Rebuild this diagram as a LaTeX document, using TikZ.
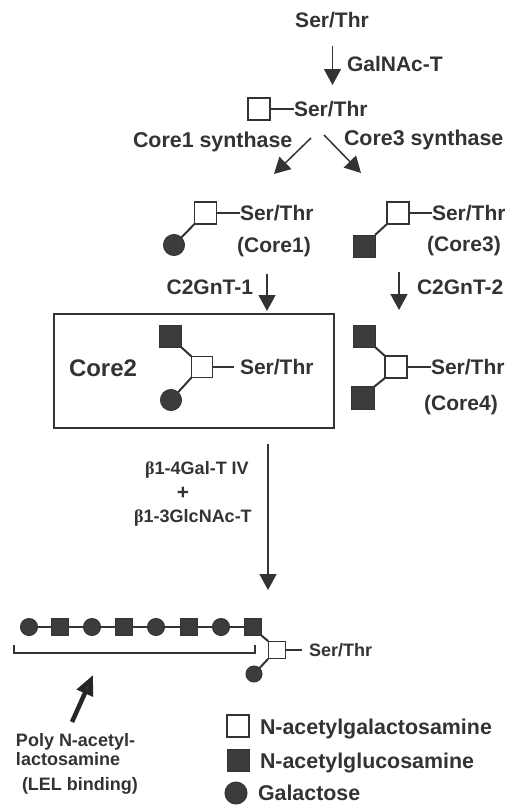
\documentclass[tikz,border=0pt]{standalone}
\usepackage{fontspec}
\setmainfont{Liberation Sans}
\newfontfamily\bfont{Liberation Serif}
\usetikzlibrary{arrows.meta}
\definecolor{ink}{HTML}{333333}
\definecolor{fillk}{HTML}{3C3C3C}
\tikzset{
 lab/.style={inner sep=0pt,outer sep=0pt,text=ink,font=\fontsize{21}{21}\selectfont\bfseries,text height=15pt,text depth=0pt},
 wide/.style={lab,font=\fontsize{21.4}{21.4}\selectfont\bfseries},
 sm/.style={lab,font=\fontsize{18}{18}\selectfont\bfseries,text height=13pt},
 wsq/.style={draw=ink,line width=1.8pt,fill=white,minimum size=#1,inner sep=0pt,outer sep=0pt},
 bsq/.style={draw=ink,line width=1pt,fill=fillk,minimum size=#1,inner sep=0pt,outer sep=0pt},
 cir/.style={circle,draw=ink,line width=1pt,fill=fillk,minimum size=#1,inner sep=0pt,outer sep=0pt},
 bond/.style={draw=ink,line width=2pt},
 arr/.style={draw=ink,line width=1.5pt,-{Triangle[length=16pt,width=17pt,fill=ink]}},
}
\begin{document}
\begin{tikzpicture}[x=1pt,y=-1pt]
\useasboundingbox (0,0) rectangle (505,806);
% top
\node[lab] (s0) at (332,20) {Ser/Thr};
\coordinate (a1s) at (332.5,46); \coordinate (a1e) at (332.5,85);
\draw[arr] (a1s) -- (a1e);
\node[lab,anchor=west] (galt) at (347,64) {GalNAc-T};
\node[wsq=22pt] (g0) at (259,109) {};
\node[lab,anchor=west] (s1) at (294,109) {Ser/Thr};
\draw[bond] (g0) -- (s1);
\node[wide,anchor=west] (c1s) at (133,140) {Core1 synthase};
\node[wide,anchor=west] (c3s) at (344,138) {Core3 synthase};
\coordinate (a2s) at (311,138); \coordinate (a2e) at (274,174);
\coordinate (a3s) at (324,135); \coordinate (a3e) at (361,173);
\draw[arr] (a2s) -- (a2e);
\draw[arr] (a3s) -- (a3e);
% core1
\node[wsq=22pt] (g1) at (205.5,213) {};
\node[cir=21pt] (g1c) at (174,245) {};
\node[lab,anchor=west] (s2) at (240,213) {Ser/Thr};
\node[lab] (c1) at (274,245) {(Core1)};
\draw[bond] (g1) -- (s2);
\draw[bond] (g1.south west) -- (g1c);
% core3
\node[wsq=22pt] (g3) at (398,213) {};
\node[bsq=22pt] (g3b) at (364,246) {};
\node[lab,anchor=west] (s3) at (432,213) {Ser/Thr};
\node[lab] (c3) at (464,244) {(Core3)};
\draw[bond] (g3) -- (s3);
\draw[bond] (g3.south west) -- (g3b.north east);
% enzymes
\node[lab,anchor=east] (e1) at (253,287) {C2GnT-1};
\coordinate (a4s) at (267,274); \coordinate (a4e) at (267,311);
\draw[arr] (a4s) -- (a4e);
\node[lab,anchor=west] (e2) at (417,287) {C2GnT-2};
\coordinate (a5s) at (399,272); \coordinate (a5e) at (399,310);
\draw[arr] (a5s) -- (a5e);
% core2 box
\node[draw=ink,line width=2pt,minimum width=280pt,minimum height=114pt,inner sep=0pt] (box) at (194,371) {};
\node[lab,anchor=west,font=\fontsize{24}{24}\selectfont\bfseries,text height=17pt] (c2) at (69,368) {Core2};
\node[bsq=22pt] (g2t) at (170,336) {};
\node[wsq=21pt] (g2) at (202,367) {};
\node[cir=21pt] (g2c) at (171,400) {};
\node[lab,anchor=west] (s4) at (240,367) {Ser/Thr};
\coordinate (g2e) at (234,367);
\draw[bond] (g2) -- (g2e);
\draw[bond] (g2.north west) -- (g2t.south east);
\draw[bond] (g2.south west) -- (g2c);
% core4
\node[bsq=22pt] (g4t) at (364,336) {};
\node[wsq=22pt] (g4) at (396,367) {};
\node[bsq=23pt] (g4b) at (363,398) {};
\node[lab,anchor=west] (s5) at (431,367) {Ser/Thr};
\node[lab] (c4) at (461,403) {(Core4)};
\draw[bond] (g4) -- (s5);
\draw[bond] (g4.north west) -- (g4t.south east);
\draw[bond] (g4.south west) -- (g4b.north east);
% long arrow
\node[sm] (b1) at (197,468) {{\bfont\bfseries β}1-4Gal-T IV};
\node[lab] (plus) at (183,492) {+};
\node[sm] (b2) at (193,516) {{\bfont\bfseries β}1-3GlcNAc-T};
\coordinate (a6s) at (268,444); \coordinate (a6e) at (268,590);
\draw[arr] (a6s) -- (a6e);
% chain
\node[cir=17pt] (n1) at (29,627) {};
\node[bsq=17pt] (n2) at (60,627) {};
\node[cir=17pt] (n3) at (92,627) {};
\node[bsq=17pt] (n4) at (124,627) {};
\node[cir=17pt] (n5) at (156,627) {};
\node[bsq=17pt] (n6) at (189,627) {};
\node[cir=17pt] (n7) at (221,627) {};
\node[bsq=17pt] (n8) at (253,627) {};
\draw[bond] (n1) -- (n2) (n2) -- (n3) (n3) -- (n4) (n4) -- (n5) (n5) -- (n6) (n6) -- (n7) (n7) -- (n8);
\node[draw=ink,line width=.8pt,fill=white,minimum size=17pt,inner sep=0pt] (g5) at (277,650) {};
\node[cir=16pt] (g5c) at (254,674) {};
\node[sm,anchor=west] (s6) at (309,650) {Ser/Thr};
\coordinate (g5e) at (302,650);
\draw[bond] (g5) -- (g5e);
\draw[bond] (n8.south east) -- (g5.north west);
\draw[bond] (g5.south west) -- (g5c);
\coordinate (bl) at (14,645); \coordinate (br) at (255,645);
\draw[ink,line width=2pt] (bl) -- (14,653) -- (255,653) -- (br);
% thick arrow
\coordinate (a7s) at (72,722); \coordinate (a7e) at (93,675);
\draw[draw=black!85,line width=4.5pt,-{Triangle[length=20pt,width=17pt,fill=ink]}] (a7s) -- (a7e);
\node[sm,anchor=west] (p1) at (16,740) {Poly N-acetyl-};
\node[sm,anchor=west] (p2) at (16,759) {lactosamine};
\node[sm,anchor=west] (p3) at (22,784) {(LEL binding)};
% legend
\node[wsq=22pt] (l1) at (238,726) {};
\node[bsq=22pt] (l2) at (238,760) {};
\node[cir=22pt] (l3) at (236,793) {};
\node[wide,anchor=west] (t1) at (260,727) {N-acetylgalactosamine};
\node[wide,anchor=west] (t2) at (260,761) {N-acetylglucosamine};
\node[wide,anchor=west] (t3) at (258,793) {Galactose};
\end{tikzpicture}
\end{document}
